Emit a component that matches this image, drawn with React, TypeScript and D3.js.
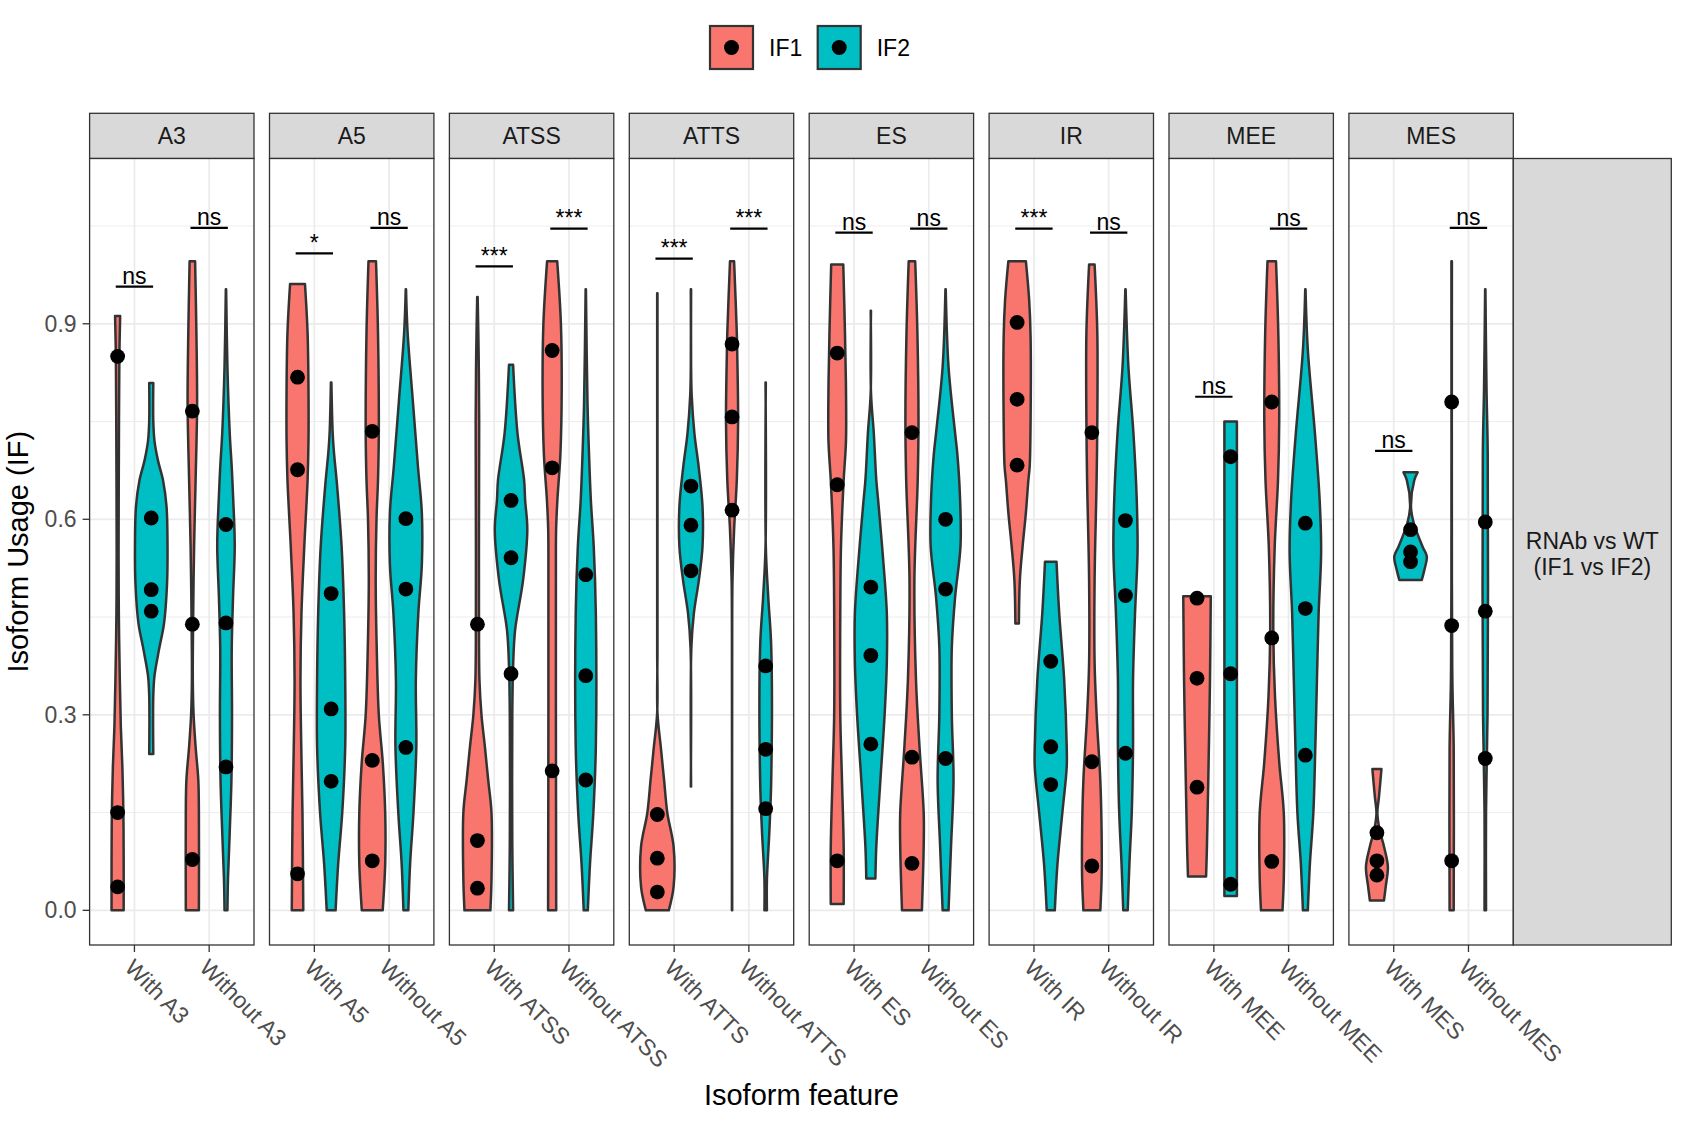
import React from "react";
import * as d3 from "d3";

const features = ["A3", "A5", "ATSS", "ATTS", "ES", "IR", "MEE", "MES"];
const conditions = ["With", "Without"];
const isoforms = ["IF1", "IF2"];
const isoformColors = ["#F8766D", "#00BFC4"];
const yTicks = [0, 0.3, 0.6, 0.9];
const yTickLabels = ["0.0", "0.3", "0.6", "0.9"];
const yMinor = [0.15, 0.45, 0.75, 1.05];

// points (IF values), per feature
const pointsIF1With = [
  [0.85, 0.15, 0.036], [0.818, 0.676, 0.056], [0.439, 0.107, 0.034], [0.147, 0.08, 0.028],
  [0.855, 0.653, 0.076], [0.902, 0.784, 0.683], [0.479, 0.356, 0.189], [0.119, 0.076, 0.054],
];
const pointsIF2With = [
  [0.602, 0.492, 0.459], [0.486, 0.309, 0.198], [0.629, 0.541, 0.363], [0.651, 0.591, 0.521],
  [0.496, 0.391, 0.255], [0.382, 0.251, 0.193], [0.696, 0.363, 0.04], [0.584, 0.55, 0.535],
];
const pointsIF1Without = [
  [0.766, 0.439, 0.078], [0.735, 0.23, 0.076], [0.859, 0.679, 0.214], [0.869, 0.757, 0.614],
  [0.733, 0.235, 0.072], [0.733, 0.228, 0.068], [0.78, 0.418, 0.075], [0.78, 0.437, 0.076],
];
const pointsIF2Without = [
  [0.592, 0.441, 0.22], [0.601, 0.493, 0.25], [0.515, 0.36, 0.2], [0.375, 0.247, 0.156],
  [0.6, 0.493, 0.233], [0.598, 0.483, 0.241], [0.594, 0.463, 0.238], [0.596, 0.459, 0.233],
];

// violin density profiles: [IF value, relative density]
const violinIF1With: [number, number][][] = [
  [[0, 7.3], [0.08, 7.3], [0.15, 7], [0.22, 6], [0.28, 4.5], [0.35, 3.5], [0.45, 2.5], [0.55, 2.2], [0.7, 2.5], [0.85, 3], [0.912, 3.8]],
  [[0, 7], [0.149, 6.2], [0.251, 5], [0.353, 4.2], [0.456, 5.2], [0.558, 8], [0.66, 11.3], [0.72, 12.2], [0.8, 12.2], [0.886, 11.3], [0.961, 8.7]],
  [[0, 14.2], [0.047, 15.3], [0.15, 15.3], [0.2, 12], [0.251, 8.7], [0.3, 5.3], [0.353, 3.3], [0.45, 2.8], [0.6, 2.8], [0.75, 3], [0.85, 2.5], [0.941, 1.5]],
  [[0, 12.7], [0.036, 17.5], [0.098, 17.5], [0.149, 11.3], [0.2, 8], [0.251, 4.7], [0.303, 1.3], [0.4, 1.1], [0.947, 1.1]],
  [[0.0097, 7.7], [0.098, 7.7], [0.2, 6], [0.3, 4.3], [0.456, 4.3], [0.558, 5], [0.66, 7.7], [0.72, 10], [0.8, 10], [0.886, 9], [0.991, 7.3]],
  [[0.44, 3], [0.507, 4], [0.558, 6.7], [0.61, 10], [0.66, 12.5], [0.681, 13.8], [0.75, 14.7], [0.88, 14.7], [0.936, 13.3], [0.996, 10]],
  [[0.052, 10.3], [0.1, 11.2], [0.2, 12.5], [0.353, 14.2], [0.482, 15]],
  [[0.015, 8.3], [0.036, 10], [0.067, 12.2], [0.098, 8.3], [0.123, 4], [0.149, 1.7], [0.174, 3.3], [0.217, 5.8]],
];
const violinIF2With: [number, number][][] = [
  [[0.24, 3.3], [0.33, 3.3], [0.36, 4.5], [0.4, 9], [0.44, 14], [0.5, 17], [0.56, 17.5], [0.62, 16.5], [0.66, 13], [0.69, 8], [0.72, 4.5], [0.75, 3.3], [0.809, 3.3]],
  [[0, 5.7], [0.072, 8.3], [0.149, 12.3], [0.251, 15.3], [0.353, 15.3], [0.456, 14.2], [0.558, 11.7], [0.66, 6.7], [0.7, 4.2], [0.732, 2.8], [0.81, 1.5]],
  [[0, 3.3], [0.1, 2.5], [0.3, 2.5], [0.374, 3.3], [0.43, 5.3], [0.507, 13.3], [0.584, 17.5], [0.63, 15.3], [0.66, 14.3], [0.732, 7.7], [0.837, 3.3]],
  [[0.19, 1.2], [0.404, 1.7], [0.456, 4.2], [0.507, 9.2], [0.558, 12.8], [0.62, 12.8], [0.68, 9], [0.732, 4.7], [0.79, 2], [0.834, 1.2], [0.953, 1.2]],
  [[0.049, 5.8], [0.098, 6.7], [0.2, 10.8], [0.3, 15], [0.38, 17.2], [0.456, 17.2], [0.558, 12.5], [0.63, 8.5], [0.66, 6.7], [0.732, 4.2], [0.794, 1.2], [0.92, 1.2]],
  [[0, 5.3], [0.072, 8], [0.149, 12.8], [0.22, 17.2], [0.251, 17.2], [0.353, 14.7], [0.456, 9.7], [0.535, 7]],
  [[0.022, 7.5], [0.75, 7.5]],
  [[0.507, 12.5], [0.522, 15], [0.543, 17.5], [0.558, 13.3], [0.594, 4.5], [0.619, 1.7], [0.66, 5], [0.672, 8.3]],
];
const violinIF1Without: [number, number][][] = [
  [[0, 7.8], [0.15, 7.8], [0.2, 7.2], [0.251, 4.5], [0.3, 2.5], [0.353, 1.7], [0.44, 2], [0.558, 3], [0.66, 4.5], [0.776, 6], [0.886, 5.3], [0.996, 4]],
  [[0, 11.7], [0.072, 14.2], [0.149, 14.2], [0.226, 11.8], [0.3, 7.8], [0.404, 5.7], [0.507, 4.7], [0.6, 5.5], [0.66, 7], [0.732, 7.8], [0.886, 7], [0.996, 5]],
  [[0, 5.3], [0.3, 5], [0.507, 5], [0.584, 5.2], [0.63, 6.5], [0.7, 9.5], [0.8, 10.8], [0.9, 10], [0.996, 6.3]],
  [[0, 1.2], [0.45, 1.2], [0.507, 1.7], [0.584, 3.3], [0.66, 6], [0.75, 7.3], [0.85, 6.5], [0.886, 6], [0.996, 3.3]],
  [[0, 11.2], [0.1, 13], [0.149, 13], [0.251, 8.8], [0.353, 5.3], [0.507, 3.7], [0.66, 7], [0.75, 7.8], [0.886, 6.7], [0.996, 4.5]],
  [[0, 9.7], [0.05, 11], [0.12, 11], [0.2, 9.7], [0.3, 6], [0.38, 4], [0.507, 4], [0.66, 6], [0.75, 6.7], [0.886, 6.7], [0.991, 4]],
  [[0, 12], [0.05, 13.3], [0.149, 13.3], [0.226, 8.8], [0.328, 4.5], [0.43, 2.8], [0.558, 4.2], [0.66, 7.5], [0.75, 8.7], [0.886, 7.8], [0.996, 5.5]],
  [[0, 3.3], [0.25, 3.3], [0.35, 2], [0.5, 1.5], [0.996, 1.5]],
];
const violinIF2Without: [number, number][][] = [
  [[0, 2.7], [0.05, 3.3], [0.12, 5], [0.2, 6.7], [0.3, 7.3], [0.4, 7], [0.48, 8.3], [0.56, 10], [0.63, 8.5], [0.68, 7], [0.732, 5], [0.834, 2.7], [0.953, 1.2]],
  [[0, 3.7], [0.072, 5.5], [0.149, 8.8], [0.251, 11.7], [0.353, 11.2], [0.456, 13.7], [0.53, 17.2], [0.61, 17.2], [0.681, 13.3], [0.78, 8.3], [0.886, 3], [0.953, 1.2]],
  [[0, 3.3], [0.072, 5.5], [0.149, 8.8], [0.251, 11.3], [0.456, 11.3], [0.558, 9.2], [0.63, 6.3], [0.7, 4.5], [0.776, 3], [0.953, 1.2]],
  [[0, 2.5], [0.047, 2.5], [0.123, 5], [0.2, 6.8], [0.404, 6.8], [0.481, 3.8], [0.558, 1.2], [0.81, 1.2]],
  [[0, 4.2], [0.098, 6.7], [0.2, 9.2], [0.3, 7.5], [0.404, 7.5], [0.481, 10.8], [0.56, 16.2], [0.64, 15.5], [0.7, 13], [0.732, 10.8], [0.834, 4.2], [0.953, 1.2]],
  [[0, 3.5], [0.072, 5.2], [0.149, 7.5], [0.251, 8.8], [0.353, 8.8], [0.456, 10.8], [0.55, 13.3], [0.63, 12.5], [0.732, 9.2], [0.834, 4.2], [0.953, 1.2]],
  [[0, 3.7], [0.072, 5.8], [0.149, 9.2], [0.251, 11.2], [0.353, 12.8], [0.456, 14.5], [0.55, 17], [0.63, 15.5], [0.732, 10.8], [0.86, 3.7], [0.953, 1.2]],
  [[0, 2], [0.15, 2], [0.3, 3.5], [0.7, 3.7], [0.8, 2.5], [0.953, 1.2]],
];

const sigWith = ["ns", "*", "***", "***", "ns", "***", "ns", "ns"];
const sigWithout = ["ns", "ns", "***", "***", "ns", "ns", "ns", "ns"];
const sigYWith = [0.957, 1.008, 0.988, 1.0, 1.04, 1.046, 0.788, 0.705];
const sigYWithout = [1.047, 1.047, 1.046, 1.046, 1.046, 1.04, 1.046, 1.047];

const rowStripLines = ["RNAb vs WT", "(IF1 vs IF2)"];
const xTitle = "Isoform feature";
const yTitle = "Isoform Usage (IF)";

const FONT = "'Liberation Sans', Arial, Helvetica, sans-serif";

export default function App() {
  const W = 1688, H = 1122;
  const panelLeft = 89.6, panelTop = 158.5, panelBottom = 945;
  const panelW = 164.4, gap = 15.5;
  const stripTop = 113.3;
  const small = 23;
  const big = 29;
  const total = 8 * panelW + 7 * gap;
  const fx = d3.scaleBand<string>().domain(features).range([panelLeft, panelLeft + total]).paddingInner(gap / (panelW + gap)).paddingOuter(0);
  const bw = fx.bandwidth();
  const xin = d3.scalePoint<string>().domain(conditions).range([0, bw]).padding(0.6);
  const step = xin.step();
  const y = d3.scaleLinear().domain([-0.0532, 1.1536]).range([panelBottom, panelTop]);
  const dens = d3.scaleLinear().domain([0, 16.8]).range([0, 0.225 * step]);
  const hw = (d: number) => Math.max(0.15, dens(d) - 1.25);
  const dodge = (i: number) => (i === 0 ? -0.225 : 0.225) * step;

  const violins = [
    [violinIF1With, violinIF2With],
    [violinIF1Without, violinIF2Without],
  ];
  const pts = [
    [pointsIF1With, pointsIF2With],
    [pointsIF1Without, pointsIF2Without],
  ];
  const sigs = [sigWith, sigWithout];
  const sigYs = [sigYWith, sigYWithout];

  const rightEdge = panelLeft + total;
  const rowStripW = 158;

  return (
    <svg width={W} height={H} style={{ position: "absolute", left: 0, top: 0, display: "block", background: "#fff" }} fontFamily={FONT}>
      <rect x={0} y={0} width={W} height={H} fill="#fff" />
      {/* legend */}
      {isoforms.map((iso, i) => {
        const lx = [710, 817.7][i];
        return (
          <g key={iso}>
            <rect x={lx} y={26} width={43} height={43} fill={isoformColors[i]} stroke="#333333" strokeWidth={2.2} />
            <circle cx={lx + 21.5} cy={47.5} r={7.5} fill="#000" />
            <text x={lx + 59} y={55.5} fontSize={small} fill="#000">{iso}</text>
          </g>
        );
      })}
      {features.map((f, fi) => {
        const px = fx(f)!;
        return (
          <g key={f}>
            {/* strip */}
            <rect x={px} y={stripTop} width={bw} height={panelTop - stripTop} fill="#D9D9D9" stroke="#333333" strokeWidth={1.3} />
            <text x={px + bw / 2} y={(stripTop + panelTop) / 2 + 8} fontSize={small} fill="#1A1A1A" textAnchor="middle">{f}</text>
            {/* panel */}
            <rect x={px} y={panelTop} width={bw} height={panelBottom - panelTop} fill="#fff" />
            {yMinor.map((t) => (
              <line key={"m" + t} x1={px} x2={px + bw} y1={y(t)} y2={y(t)} stroke="#EBEBEB" strokeWidth={0.9} />
            ))}
            {yTicks.map((t) => (
              <line key={"M" + t} x1={px} x2={px + bw} y1={y(t)} y2={y(t)} stroke="#EBEBEB" strokeWidth={1.7} />
            ))}
            {conditions.map((c) => (
              <line key={"v" + c} x1={px + xin(c)!} x2={px + xin(c)!} y1={panelTop} y2={panelBottom} stroke="#EBEBEB" strokeWidth={1.7} />
            ))}
            {conditions.map((c, ci) =>
              isoforms.map((iso, ii) => {
                const cx = px + xin(c)! + dodge(ii);
                const prof = violins[ci][ii][fi];
                const area = d3
                  .area<[number, number]>()
                  .curve(d3.curveCatmullRom.alpha(0.5))
                  .y((d) => y(d[0]))
                  .x0((d) => cx - hw(d[1]))
                  .x1((d) => cx + hw(d[1]));
                return (
                  <path key={c + iso} d={area(prof) || ""} fill={isoformColors[ii]} stroke="#333333" strokeWidth={2.5} strokeLinejoin="round" />
                );
              })
            )}
            {conditions.map((c, ci) =>
              isoforms.map((iso, ii) => {
                const cx = px + xin(c)! + dodge(ii);
                return pts[ci][ii][fi].map((v, k) => (
                  <circle key={c + iso + k} cx={cx} cy={y(v)} r={7.4} fill="#000" />
                ));
              })
            )}
            {conditions.map((c, ci) => {
              const cx = px + xin(c)!;
              const ly = y(sigYs[ci][fi]);
              return (
                <g key={"s" + c}>
                  <line x1={cx - 0.25 * step} x2={cx + 0.25 * step} y1={ly} y2={ly} stroke="#000" strokeWidth={2.2} />
                  <text x={cx} y={ly - 2.5} fontSize={small} textAnchor="middle" fill="#000">{sigs[ci][fi]}</text>
                </g>
              );
            })}
            <rect x={px} y={panelTop} width={bw} height={panelBottom - panelTop} fill="none" stroke="#333333" strokeWidth={1.3} />
            {/* x ticks and labels */}
            {conditions.map((c) => {
              const tx = px + xin(c)!;
              return (
                <g key={"t" + c}>
                  <line x1={tx} x2={tx} y1={panelBottom} y2={panelBottom + 7} stroke="#333333" strokeWidth={1.3} />
                  <text transform={`translate(${tx - 11},${panelBottom + 24}) rotate(45)`} fontSize={small} fill="#4D4D4D">{`${c} ${f}`}</text>
                </g>
              );
            })}
          </g>
        );
      })}
      {/* right row strip */}
      <rect x={rightEdge} y={panelTop} width={rowStripW} height={panelBottom - panelTop} fill="#D9D9D9" stroke="#333333" strokeWidth={1.3} />
      {rowStripLines.map((t, i) => (
        <text key={t} x={rightEdge + rowStripW / 2} y={549 + i * 26} fontSize={small} fill="#1A1A1A" textAnchor="middle">{t}</text>
      ))}
      {/* y axis */}
      {yTicks.map((t, i) => (
        <g key={"yt" + t}>
          <line x1={panelLeft - 7} x2={panelLeft} y1={y(t)} y2={y(t)} stroke="#333333" strokeWidth={1.3} />
          <text x={panelLeft - 13} y={y(t) + 8} fontSize={small} fill="#4D4D4D" textAnchor="end">{yTickLabels[i]}</text>
        </g>
      ))}
      <text transform={`translate(28,${(panelTop + panelBottom) / 2}) rotate(-90)`} fontSize={big} textAnchor="middle" fill="#000">{yTitle}</text>
      <text x={panelLeft + total / 2} y={1105} fontSize={big} textAnchor="middle" fill="#000">{xTitle}</text>
    </svg>
  );
}
